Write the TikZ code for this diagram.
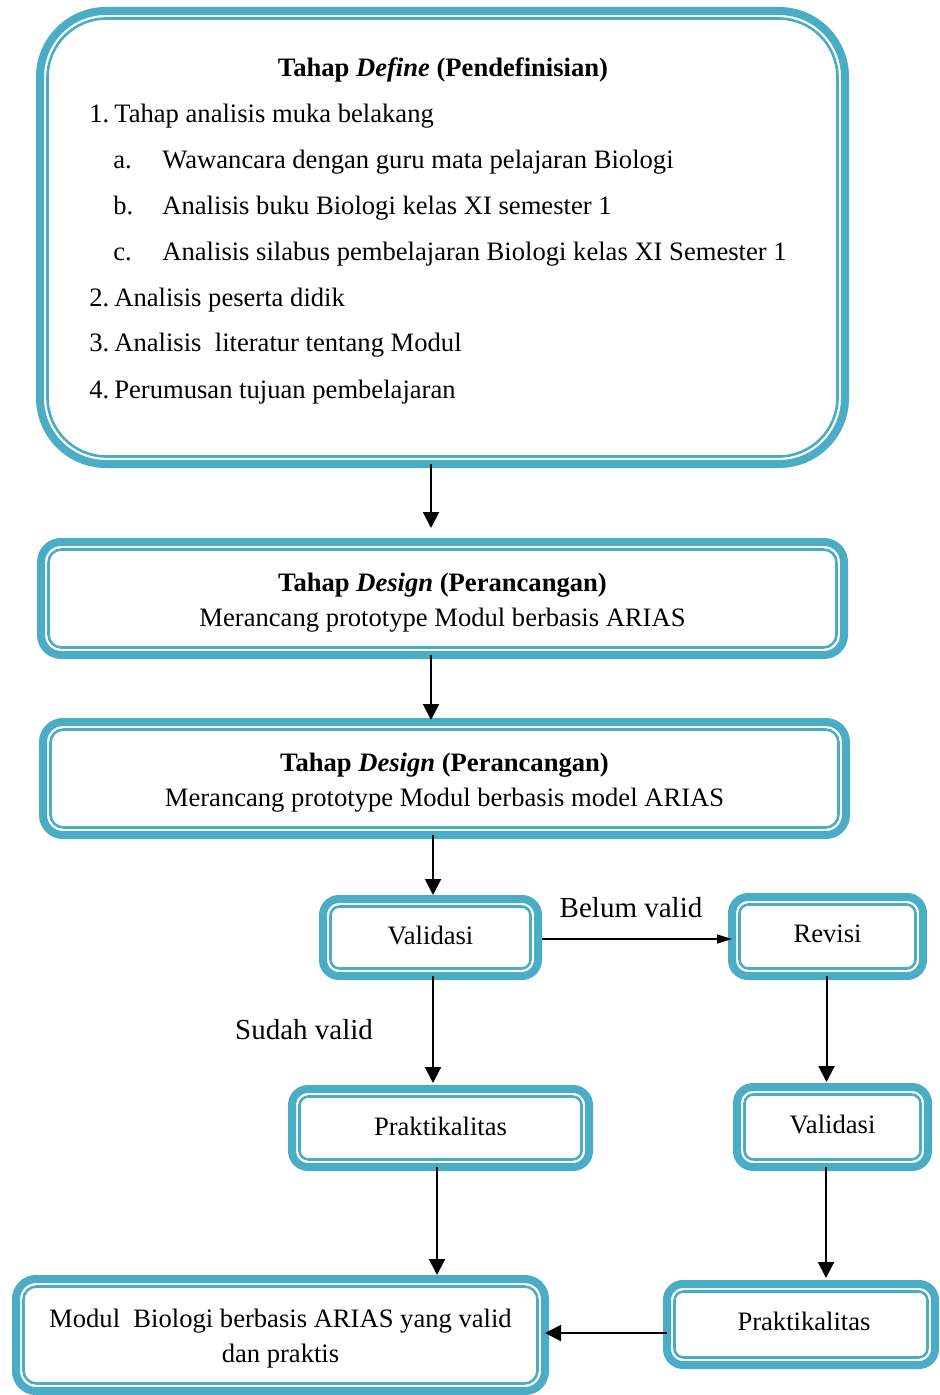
\documentclass[tikz,border=0pt]{standalone}
\usepackage{fontspec}
\setmainfont{Liberation Serif}
\usetikzlibrary{arrows.meta}
\definecolor{frame}{HTML}{4BACC6}

% Inner thin line of the double frame, inset from the thick outer one
\newcommand\innerframe[2]{%
  \draw[innerline, rounded corners=#2]
    ([xshift=3.75pt,yshift=-3.75pt]#1.north west) rectangle
    ([xshift=-3.75pt,yshift=3.75pt]#1.south east);}

\tikzset{
  box/.style={draw=frame, line width=4pt, rounded corners=#1, inner sep=0pt,
              outer sep=0pt, fill=white},
  innerline/.style={draw=frame, line width=1.3pt},
  btxt/.style={inner sep=0pt, align=center, font=\fontsize{13.3}{17.5}\selectfont},
  txt/.style={inner sep=0pt, anchor=base west, font=\fontsize{13.3}{16}\selectfont},
  lbl/.style={inner sep=0pt, font=\fontsize{14.5}{17}\selectfont},
  arr/.style={-{Triangle[length=8pt,width=8pt]}, line width=1pt},
  arrthin/.style={-{Triangle[length=7.5pt,width=4.5pt]}, line width=0.6pt},
}

\begin{document}
\begin{tikzpicture}[x=0.5pt,y=-0.5pt]
\useasboundingbox[fill=white] (0,0) rectangle (939,1395);

% Define stage
\node[box=33pt, minimum width=402.5pt, minimum height=226.5pt] (def) at (442.5,237.5) {};
\innerframe{def}{29.5pt}
\node[inner sep=0pt, anchor=base, font=\fontsize{13.3}{16}\selectfont\bfseries] (t0) at (443,77)
  {Tahap \textit{Define} (Pendefinisian)};
\node[txt] (l1) at (89,123) {\makebox[12.5pt][l]{1.}Tahap analisis muka belakang};
\node[txt] (la) at (113,169) {\makebox[24.5pt][l]{a.}Wawancara dengan guru mata pelajaran Biologi};
\node[txt] (lb) at (113,215) {\makebox[24.5pt][l]{b.}Analisis buku Biologi kelas XI semester 1};
\node[txt] (lc) at (113,261) {\makebox[24.5pt][l]{c.}Analisis silabus pembelajaran Biologi kelas XI Semester 1};
\node[txt] (l2) at (89,307) {\makebox[12.5pt][l]{2.}Analisis peserta didik};
\node[txt] (l3) at (89,352) {\makebox[12.5pt][l]{3.}Analisis\ \ literatur tentang Modul};
\node[txt] (l4) at (89,399) {\makebox[12.5pt][l]{4.}Perumusan tujuan pembelajaran};

% Design stages
\node[box=10pt, minimum width=401.5pt, minimum height=56.5pt] (des1) at (442.5,598.5) {};
\innerframe{des1}{6.5pt}
\node[btxt] (des1t) at ([yshift=-2pt]des1.center)
  {\textbf{Tahap \textit{Design} (Perancangan)}\\Merancang prototype Modul berbasis ARIAS};
\node[box=10pt, minimum width=401.5pt, minimum height=56.5pt] (des2) at (444.5,778.5) {};
\innerframe{des2}{6.5pt}
\node[btxt] (des2t) at ([yshift=-2pt]des2.center)
  {\textbf{Tahap \textit{Design} (Perancangan)}\\Merancang prototype Modul berbasis model ARIAS};

% Validation and practicality steps
\node[box=8pt, minimum width=107.5pt, minimum height=38.5pt] (val1) at (430.5,937.5) {};
\innerframe{val1}{4.5pt}
\node[btxt] (val1t) at ([yshift=1pt]val1.center) {Validasi};
\node[box=8pt, minimum width=95.5pt, minimum height=39.5pt] (rev) at (827.5,936.5) {};
\innerframe{rev}{4.5pt}
\node[btxt] (revt) at ([yshift=1.5pt]rev.center) {Revisi};
\node[box=8pt, minimum width=148.5pt, minimum height=39pt] (prak1) at (440.5,1128) {};
\innerframe{prak1}{4.5pt}
\node[btxt] (prak1t) at ([yshift=1pt]prak1.center) {Praktikalitas};
\node[box=8pt, minimum width=95.5pt, minimum height=40pt] (val2) at (832.5,1127) {};
\innerframe{val2}{4.5pt}
\node[btxt] (val2t) at ([yshift=1.5pt]val2.center) {Validasi};
\node[box=10pt, minimum width=264.5pt, minimum height=56pt] (modul) at (280.5,1335) {};
\innerframe{modul}{6.5pt}
\node[btxt] (modult) at ([yshift=-2pt]modul.center)
  {Modul\ \ Biologi berbasis ARIAS yang valid\\dan praktis};
\node[box=8pt, minimum width=134pt, minimum height=40.5pt] (prak2) at (801,1324.5) {};
\innerframe{prak2}{4.5pt}
\node[btxt] (prak2t) at ([xshift=1.5pt,yshift=1.5pt]prak2.center) {Praktikalitas};

% Branch labels
\node[lbl] (bv) at (631,908) {Belum valid};
\node[lbl] (sv) at (304,1030) {Sudah valid};

% Connectors
\path ([xshift=-5.75pt]def.south) coordinate (a1);
\draw[arr, shorten >=7pt] (a1) -- (des1.north -| a1);
\path ([xshift=-5.75pt]des1.south) coordinate (a2);
\draw[arr, shorten >=1pt] (a2) -- (des2.north -| a2);
\path ([xshift=-5.75pt]des2.south) coordinate (a3);
\draw[arr, shorten >=2pt] (a3) -- (val1.north -| a3);
\path ([yshift=-0.75pt]val1.east) coordinate (a4);
\draw[arrthin, shorten <=2pt] (a4) -- (rev.west |- a4);
\path ([xshift=1.25pt]val1.south) coordinate (a5);
\draw[arr, shorten >=3pt] (a5) -- (prak1.north -| a5);
\path ([xshift=-0.5pt]rev.south) coordinate (a6);
\draw[arr, shorten >=2.5pt] (a6) -- (val2.north -| a6);
\path ([xshift=-1.75pt]prak1.south) coordinate (a7);
\draw[arr, shorten >=2pt] (a7) -- (modul.north -| a7);
\path ([xshift=-3.25pt]val2.south) coordinate (a8);
\draw[arr, shorten >=3pt] (a8) -- (prak2.north -| a8);
\path ([yshift=-4.25pt]prak2.west) coordinate (a9);
\draw[arr] (a9) -- (modul.east |- a9);
\end{tikzpicture}
\end{document}
